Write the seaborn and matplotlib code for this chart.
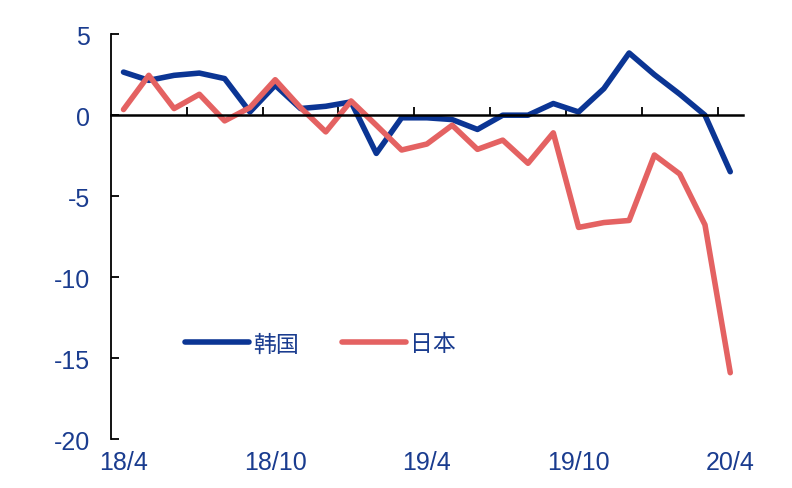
import matplotlib
matplotlib.use("Agg")
import matplotlib.pyplot as plt
import seaborn as sns
import numpy as np
import pandas as pd

# 月份 18/4 ~ 20/4
months = ["18/4", "18/5", "18/6", "18/7", "18/8", "18/9", "18/10", "18/11", "18/12",
          "19/1", "19/2", "19/3", "19/4", "19/5", "19/6", "19/7", "19/8", "19/9",
          "19/10", "19/11", "19/12", "20/1", "20/2", "20/3", "20/4"]
korea = [2.66, 2.15, 2.46, 2.6, 2.26, 0.2, 1.85, 0.41, 0.55, 0.82, -2.36, -0.16,
         -0.16, -0.27, -0.88, 0.0, 0.0, 0.72, 0.2, 1.64, 3.84, 2.5, 1.3, 0.0, -3.49]
japan = [0.35, 2.46, 0.41, 1.29, -0.35, 0.47, 2.19, 0.47, -1.03, 0.88, -0.62, -2.15,
         -1.78, -0.62, -2.11, -1.54, -2.97, -1.09, -6.93, -6.63, -6.5, -2.46, -3.63,
         -6.77, -15.9]
label_months = ["18/4", "18/10", "19/4", "19/10", "20/4"]

blue = "#0B3594"
red = "#E46262"
text_col = "#1A3C8F"

df = pd.DataFrame({"idx": np.arange(len(months)), "韩国": korea, "日本": japan})
df = df.melt(id_vars="idx", var_name="国家", value_name="val")

sns.set_style("white")
plt.rcParams["font.family"] = ["Liberation Sans", "Noto Sans CJK SC", "DejaVu Sans"]

fig = plt.figure(figsize=(7.92, 4.89), dpi=100)
ax = fig.add_axes([0.140, 0.100, 0.798, 0.828])

sns.lineplot(data=df, x="idx", y="val", hue="国家", palette=[blue, red],
             linewidth=4.0, ax=ax, legend=True)

ax.set_xlim(-0.5, len(months) - 0.5)
ax.set_ylim(-20, 5)
ax.set_yticks([5, 0, -5, -10, -15, -20])
ax.set_yticklabels(["5", "0", "-5", "-10", "-15", "-20"])
ax.tick_params(axis="y", direction="in", length=6, width=1.3, color="black",
               labelsize=18, labelcolor=text_col, pad=15, left=True)
ax.set_xlabel("")
ax.set_ylabel("")

for s in ["top", "right"]:
    ax.spines[s].set_visible(False)
ax.spines["left"].set_color("black")
ax.spines["left"].set_linewidth(1.3)
ax.spines["bottom"].set_position(("data", 0))
ax.spines["bottom"].set_color("black")
ax.spines["bottom"].set_linewidth(1.8)

# 零线上的刻度（每三个月）
ax.set_xticks(np.arange(2.5, len(months) - 0.5, 3))
ax.set_xticklabels([])
ax.tick_params(axis="x", direction="in", length=6, width=1.3, color="black", bottom=True)

# 底部月份标签
sec = ax.secondary_xaxis("bottom")
sec.set_xticks([months.index(m) for m in label_months])
sec.set_xticklabels(label_months)
sec.tick_params(length=0, labelsize=18, labelcolor=text_col, pad=8)
sec.spines["bottom"].set_visible(False)

leg = ax.legend(loc="center left", bbox_to_anchor=(0.085, 0.235), ncol=2, frameon=False,
                fontsize=16.5, handlelength=2.8, handletextpad=0.15, columnspacing=1.9,
                title=None)
for t in leg.get_texts():
    t.set_color(text_col)
    t.set_fontfamily(["Noto Sans CJK SC", "DejaVu Sans"])

fig.savefig("out.png", dpi=100)
